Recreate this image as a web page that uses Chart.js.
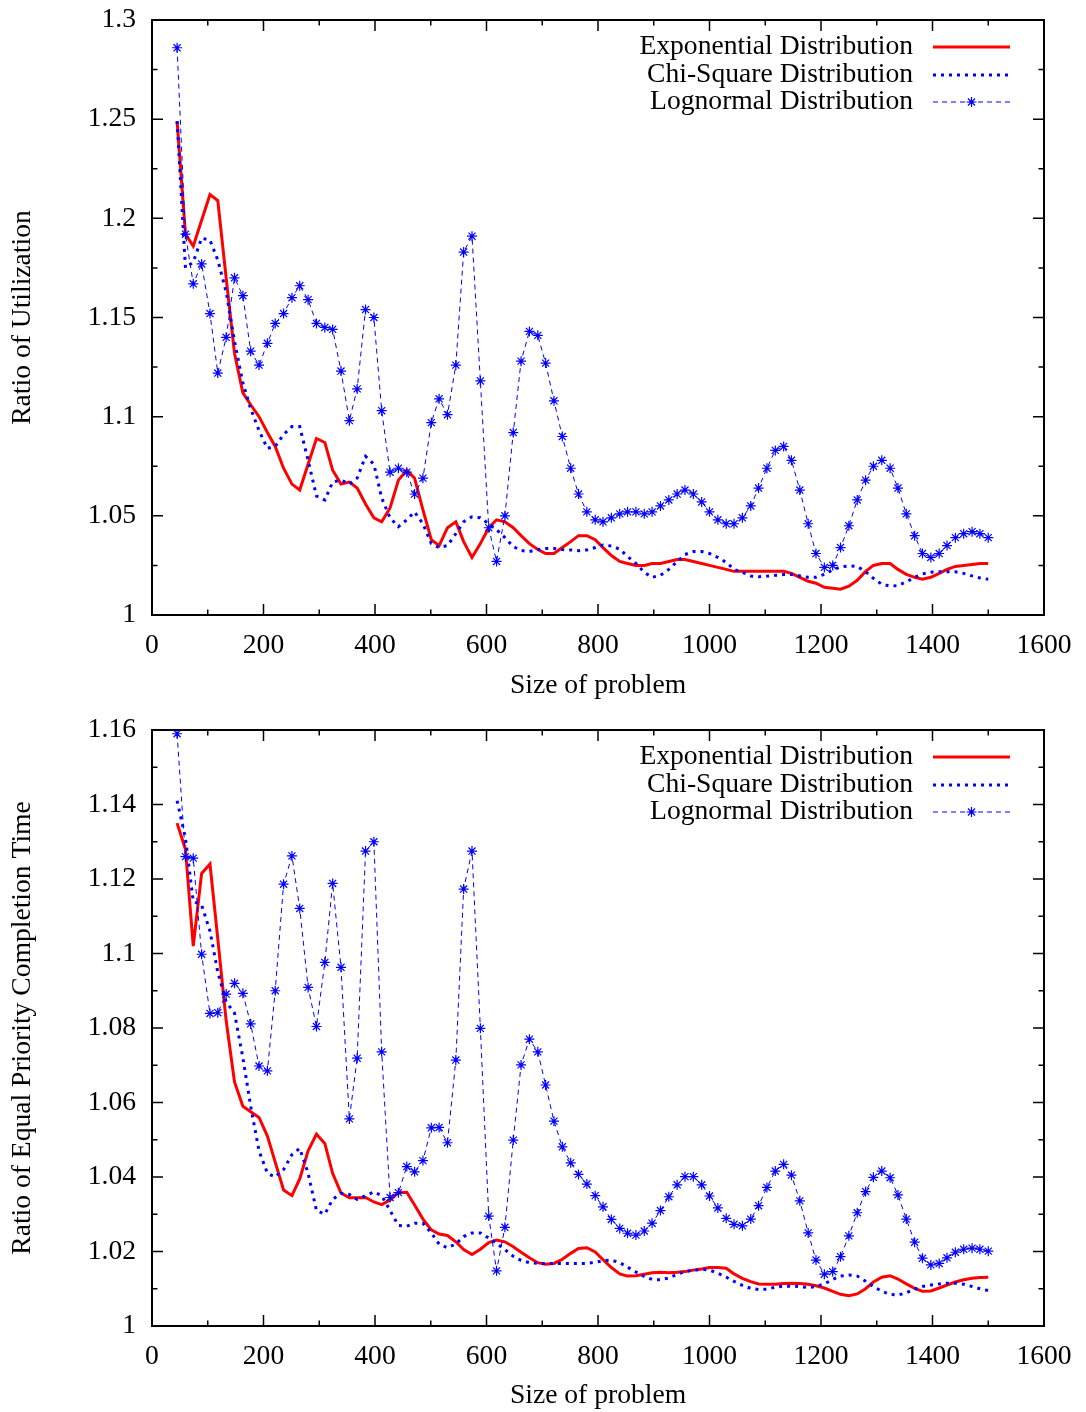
<!DOCTYPE html>
<html>
<head>
<meta charset="utf-8">
<script src="https://cdn.jsdelivr.net/npm/chart.js@4/dist/chart.umd.min.js"></script>
<style>
  body { margin: 0; background: #fff; }
  canvas { display: block; }
</style>
</head>
<body>
<canvas id="utilization" width="1086" height="706"></canvas>
<canvas id="completion" width="1086" height="706"></canvas>
<script>
// problem sizes (x) shared by every series
const sizes = [
  45, 60, 74, 89, 104, 118, 133, 148, 163, 177,
  192, 207, 221, 236, 251, 265, 280, 295, 310, 324,
  339, 354, 368, 383, 398, 412, 427, 442, 457, 471,
  486, 501, 515, 530, 545, 559, 574, 589, 604, 618,
  633, 648, 662, 677, 692, 706, 721, 736, 751, 765,
  780, 795, 809, 824, 839, 853, 868, 883, 897, 912,
  927, 942, 956, 971, 986, 1000, 1015, 1030, 1044, 1059,
  1074, 1088, 1103, 1118, 1133, 1147, 1162, 1177, 1191, 1206,
  1221, 1235, 1250, 1265, 1280, 1294, 1309, 1324, 1338, 1353,
  1368, 1382, 1397, 1412, 1426, 1441, 1456, 1471, 1485, 1500
];

const seriesNames = ['Exponential Distribution', 'Chi-Square Distribution', 'Lognormal Distribution'];

// top panel: ratio of utilization
const utilExp = [
  1.249, 1.192, 1.186, 1.199, 1.212, 1.209, 1.170, 1.132, 1.112, 1.106,
  1.100, 1.092, 1.085, 1.074, 1.066, 1.063, 1.076, 1.089, 1.087, 1.073,
  1.066, 1.067, 1.064, 1.056, 1.049, 1.047, 1.054, 1.068, 1.073, 1.069,
  1.053, 1.038, 1.035, 1.044, 1.047, 1.037, 1.029, 1.036, 1.044, 1.048,
  1.047, 1.044, 1.040, 1.036, 1.033, 1.031, 1.031, 1.034, 1.037, 1.040,
  1.040, 1.038, 1.034, 1.030, 1.027, 1.026, 1.025, 1.025, 1.026, 1.026,
  1.027, 1.028, 1.028, 1.027, 1.026, 1.025, 1.024, 1.023, 1.022, 1.022,
  1.022, 1.022, 1.022, 1.022, 1.022, 1.021, 1.019, 1.017, 1.016, 1.014,
  1.0135, 1.013, 1.0145, 1.0175, 1.022, 1.025, 1.026, 1.026, 1.023, 1.0205,
  1.019, 1.018, 1.019, 1.021, 1.023, 1.0245, 1.025, 1.0255, 1.026, 1.026
];
const utilChi = [
  1.249, 1.175, 1.178, 1.190, 1.189, 1.179, 1.163, 1.138, 1.117, 1.104,
  1.093, 1.084, 1.085, 1.091, 1.095, 1.095, 1.078, 1.060, 1.058, 1.067,
  1.068, 1.066, 1.069, 1.080, 1.076, 1.059, 1.049, 1.0445, 1.048, 1.052,
  1.046, 1.036, 1.034, 1.035, 1.041, 1.047, 1.0495, 1.049, 1.046, 1.043,
  1.039, 1.0345, 1.0325, 1.032, 1.033, 1.0335, 1.0335, 1.033, 1.0328, 1.0324,
  1.0328, 1.034, 1.0353, 1.0348, 1.0332, 1.0295, 1.026, 1.0215, 1.019, 1.020,
  1.023, 1.027, 1.0305, 1.032, 1.032, 1.031, 1.029, 1.0265, 1.023, 1.0215,
  1.0197, 1.0193, 1.0196, 1.020, 1.0204, 1.0205, 1.0197, 1.019, 1.019, 1.0205,
  1.0228, 1.0242, 1.0248, 1.0245, 1.0218, 1.0185, 1.0155, 1.0146, 1.0148, 1.0167,
  1.019, 1.0207, 1.0216, 1.0218, 1.0218, 1.0218, 1.021, 1.0197, 1.0187, 1.018
];
const utilLogn = [
  1.286, 1.192, 1.167, 1.177, 1.152, 1.122, 1.140, 1.170, 1.161, 1.133,
  1.126, 1.137, 1.147, 1.152, 1.160, 1.166, 1.159, 1.147, 1.145, 1.144,
  1.123, 1.098, 1.114, 1.154, 1.150, 1.103, 1.072, 1.074, 1.072, 1.061,
  1.069, 1.097, 1.109, 1.101, 1.126, 1.183, 1.191, 1.118, 1.044, 1.027,
  1.050, 1.092, 1.128, 1.143, 1.141, 1.127, 1.108, 1.090, 1.074, 1.061,
  1.052, 1.048, 1.047, 1.049, 1.051, 1.052, 1.052, 1.051, 1.052, 1.055,
  1.058, 1.061, 1.063, 1.061, 1.057, 1.052, 1.048, 1.046, 1.046, 1.049,
  1.055, 1.064, 1.074, 1.083, 1.085, 1.078, 1.063, 1.046, 1.031, 1.024,
  1.025, 1.034, 1.045, 1.058, 1.068, 1.075, 1.078, 1.074, 1.064, 1.051,
  1.040, 1.031, 1.029, 1.031, 1.035, 1.039, 1.041, 1.042, 1.041, 1.039
];

// bottom panel: ratio of equal priority completion time
const timeExp = [
  1.135, 1.128, 1.102, 1.1215, 1.124, 1.104, 1.082, 1.0655, 1.059, 1.0575,
  1.056, 1.051, 1.044, 1.0365, 1.035, 1.0395, 1.047, 1.0515, 1.049, 1.041,
  1.0357, 1.0344, 1.0344, 1.0345, 1.0333, 1.0326, 1.0338, 1.0358, 1.0359, 1.0325,
  1.0287, 1.0258, 1.0247, 1.0243, 1.0226, 1.0205, 1.0192, 1.0206, 1.0224, 1.0231,
  1.0226, 1.0213, 1.0198, 1.0183, 1.017, 1.0166, 1.0168, 1.0179, 1.0195, 1.0208,
  1.021, 1.0199, 1.0178, 1.0157, 1.014, 1.0134, 1.0135, 1.0139, 1.0143, 1.0144,
  1.0143, 1.0144, 1.0146, 1.015, 1.0153, 1.0157, 1.0157, 1.0155, 1.014, 1.0128,
  1.0119, 1.0113, 1.0112, 1.0112, 1.0114, 1.0115, 1.0114, 1.0112, 1.0108, 1.0102,
  1.0093, 1.0085, 1.0081, 1.0086, 1.010, 1.0118, 1.0131, 1.0135, 1.0126, 1.0113,
  1.0101, 1.0093, 1.0094, 1.0102, 1.011, 1.0118, 1.0124, 1.0128, 1.013, 1.0131
];
const timeChi = [
  1.141, 1.131, 1.114, 1.113, 1.106, 1.095, 1.087, 1.084, 1.072, 1.059,
  1.047, 1.041, 1.040, 1.042, 1.046, 1.0477, 1.041, 1.031, 1.030, 1.034,
  1.0356, 1.0353, 1.034, 1.035, 1.036, 1.035, 1.031, 1.027, 1.0268, 1.0276,
  1.0276, 1.025, 1.022, 1.021, 1.022, 1.024, 1.025, 1.025, 1.0236, 1.0222,
  1.0205, 1.0187, 1.0176, 1.017, 1.0168, 1.0168, 1.0168, 1.0168, 1.0168, 1.0168,
  1.0168, 1.0171, 1.0175, 1.0177, 1.017, 1.0158, 1.0145, 1.0133, 1.0125, 1.0124,
  1.0129, 1.0139, 1.0146, 1.015, 1.0152, 1.015, 1.0142, 1.0131, 1.012, 1.0109,
  1.0101, 1.0098, 1.0099, 1.0104, 1.0107, 1.0107, 1.0106, 1.0103, 1.0106, 1.0113,
  1.0125, 1.0134, 1.0137, 1.0134, 1.012, 1.0106, 1.0093, 1.0085, 1.0083, 1.0089,
  1.0099, 1.0106, 1.011, 1.0113, 1.0115, 1.0115, 1.0112, 1.0106, 1.010, 1.0095
];
const timeLogn = [
  1.159, 1.126, 1.1256, 1.0998, 1.0839, 1.0841, 1.0891, 1.092, 1.0893, 1.0811,
  1.0698, 1.0685, 1.090, 1.1186, 1.1262, 1.1121, 1.0909, 1.0804, 1.0976, 1.1188,
  1.0963, 1.0556, 1.0719, 1.1275, 1.130, 1.0736, 1.0345, 1.0358, 1.0428, 1.0414,
  1.0444, 1.0532, 1.0533, 1.0492, 1.0714, 1.1173, 1.1275, 1.0799, 1.0295, 1.0148,
  1.0265, 1.0499, 1.0701, 1.077, 1.0736, 1.0647, 1.055, 1.0481, 1.0438, 1.0407,
  1.0381, 1.035, 1.032, 1.0286, 1.0262, 1.0249, 1.0244, 1.0255, 1.0276, 1.031,
  1.0347, 1.0379, 1.0401, 1.0401, 1.0379, 1.0349, 1.0317, 1.0289, 1.0273, 1.0269,
  1.0287, 1.0323, 1.0372, 1.0416, 1.0434, 1.0405, 1.0336, 1.025, 1.0177, 1.0139,
  1.0146, 1.0186, 1.0242, 1.0304, 1.0361, 1.0399, 1.0416, 1.0398, 1.0352, 1.0287,
  1.0225, 1.0182, 1.0164, 1.0168, 1.0183, 1.0198, 1.0206, 1.0209, 1.0206, 1.0201
];

const FONT = 'Liberation Serif, "Times New Roman", serif';
const FSIZE = 27.6;
Chart.defaults.color = '#000';
Chart.defaults.font.family = FONT;

function points(ys) {
  return sizes.map((x, i) => ({ x: x, y: ys[i] }));
}

// gnuplot style frame: box, inward ticks on all sides, legend top right
const framePlugin = {
  id: 'frame',
  afterDraw(chart) {
    const { ctx, chartArea: a, scales: { x, y } } = chart;
    ctx.save();
    ctx.strokeStyle = '#000';
    ctx.lineWidth = 2;
    ctx.strokeRect(a.left, a.top, a.right - a.left, a.bottom - a.top);

    ctx.lineWidth = 1.5;
    ctx.beginPath();
    const xv = x.ticks.map(t => t.value);
    xv.forEach((v, i) => {
      const p = x.getPixelForValue(v);
      ctx.moveTo(p, a.bottom); ctx.lineTo(p, a.bottom - 11);
      ctx.moveTo(p, a.top); ctx.lineTo(p, a.top + 11);
      if (i < xv.length - 1) {
        const m = x.getPixelForValue((v + xv[i + 1]) / 2);
        ctx.moveTo(m, a.bottom); ctx.lineTo(m, a.bottom - 5.5);
        ctx.moveTo(m, a.top); ctx.lineTo(m, a.top + 5.5);
      }
    });
    const yv = y.ticks.map(t => t.value);
    yv.forEach((v, i) => {
      const p = y.getPixelForValue(v);
      ctx.moveTo(a.left, p); ctx.lineTo(a.left + 11, p);
      ctx.moveTo(a.right, p); ctx.lineTo(a.right - 11, p);
      if (i < yv.length - 1) {
        const m = y.getPixelForValue((v + yv[i + 1]) / 2);
        ctx.moveTo(a.left, m); ctx.lineTo(a.left + 5.5, m);
        ctx.moveTo(a.right, m); ctx.lineTo(a.right - 5.5, m);
      }
    });
    ctx.stroke();

    // legend
    ctx.font = FSIZE + 'px ' + FONT;
    ctx.textAlign = 'right';
    ctx.textBaseline = 'middle';
    const rows = [27, 55, 82];
    chart.data.datasets.forEach((ds, i) => {
      const ty = a.top + rows[i];
      ctx.fillStyle = '#000';
      ctx.fillText(ds.label, a.right - 131, ty);
      ctx.strokeStyle = ds.borderColor;
      ctx.lineWidth = ds.borderWidth;
      ctx.setLineDash(ds.borderDash || []);
      ctx.beginPath();
      ctx.moveTo(a.right - 111, ty);
      ctx.lineTo(a.right - 34, ty);
      ctx.stroke();
      ctx.setLineDash([]);
      if (ds.pointRadius > 0) {
        const cx = a.right - 72.5, r = ds.pointRadius;
        ctx.lineWidth = ds.pointBorderWidth;
        ctx.beginPath();
        ctx.moveTo(cx - r, ty); ctx.lineTo(cx + r, ty);
        ctx.moveTo(cx, ty - r); ctx.lineTo(cx, ty + r);
        const d = r * Math.SQRT1_2;
        ctx.moveTo(cx - d, ty - d); ctx.lineTo(cx + d, ty + d);
        ctx.moveTo(cx - d, ty + d); ctx.lineTo(cx + d, ty - d);
        ctx.stroke();
      }
    });
    ctx.restore();
  }
};

function makeChart(id, exp, chi, logn, yMax, yStep, yTitle, padTop, xHeight, titlePad) {
  return new Chart(document.getElementById(id), {
    type: 'line',
    data: {
      datasets: [
        {
          label: seriesNames[0], data: points(exp),
          borderColor: '#ff0000', borderWidth: 3, pointRadius: 0, order: 3
        },
        {
          label: seriesNames[1], data: points(chi),
          borderColor: '#0000ff', borderWidth: 3, borderDash: [3, 5], pointRadius: 0, order: 2
        },
        {
          label: seriesNames[2], data: points(logn),
          borderColor: '#0000ff', borderWidth: 1, borderDash: [5, 4],
          pointStyle: 'star', pointRadius: 5, pointBorderWidth: 1.2,
          pointBorderColor: '#0000ff', pointBackgroundColor: '#0000ff', order: 1
        }
      ]
    },
    options: {
      responsive: false,
      animation: false,
      devicePixelRatio: 1,
      layout: { padding: { left: 0, right: 42, top: padTop, bottom: 0 } },
      plugins: { legend: { display: false }, tooltip: { enabled: false } },
      scales: {
        x: {
          type: 'linear', min: 0, max: 1600,
          grid: { display: false, drawTicks: false, tickLength: 0 },
          border: { display: false },
          ticks: { stepSize: 200, padding: 14, font: { size: FSIZE }, callback: v => String(v) },
          title: { display: true, text: 'Size of problem', font: { size: FSIZE }, padding: { top: 0, bottom: titlePad } },
          afterFit: s => { s.height = xHeight; }
        },
        y: {
          min: 1, max: yMax,
          grid: { display: false, drawTicks: false, tickLength: 0 },
          border: { display: false },
          ticks: {
            stepSize: yStep, padding: 16, font: { size: FSIZE, lineHeight: 0.2 },
            callback: v => String(parseFloat(v.toFixed(3)))
          },
          title: { display: true, text: yTitle, font: { size: FSIZE }, padding: { top: 6, bottom: 0 } },
          afterFit: s => { s.width = 152; }
        }
      }
    },
    plugins: [framePlugin]
  });
}

makeChart('utilization', utilExp, utilChi, utilLogn, 1.3, 0.05, 'Ratio of Utilization', 20, 91, 4);
makeChart('completion', timeExp, timeChi, timeLogn, 1.16, 0.02, 'Ratio of Equal Priority Completion Time', 24, 86, 0);
</script>
</body>
</html>
